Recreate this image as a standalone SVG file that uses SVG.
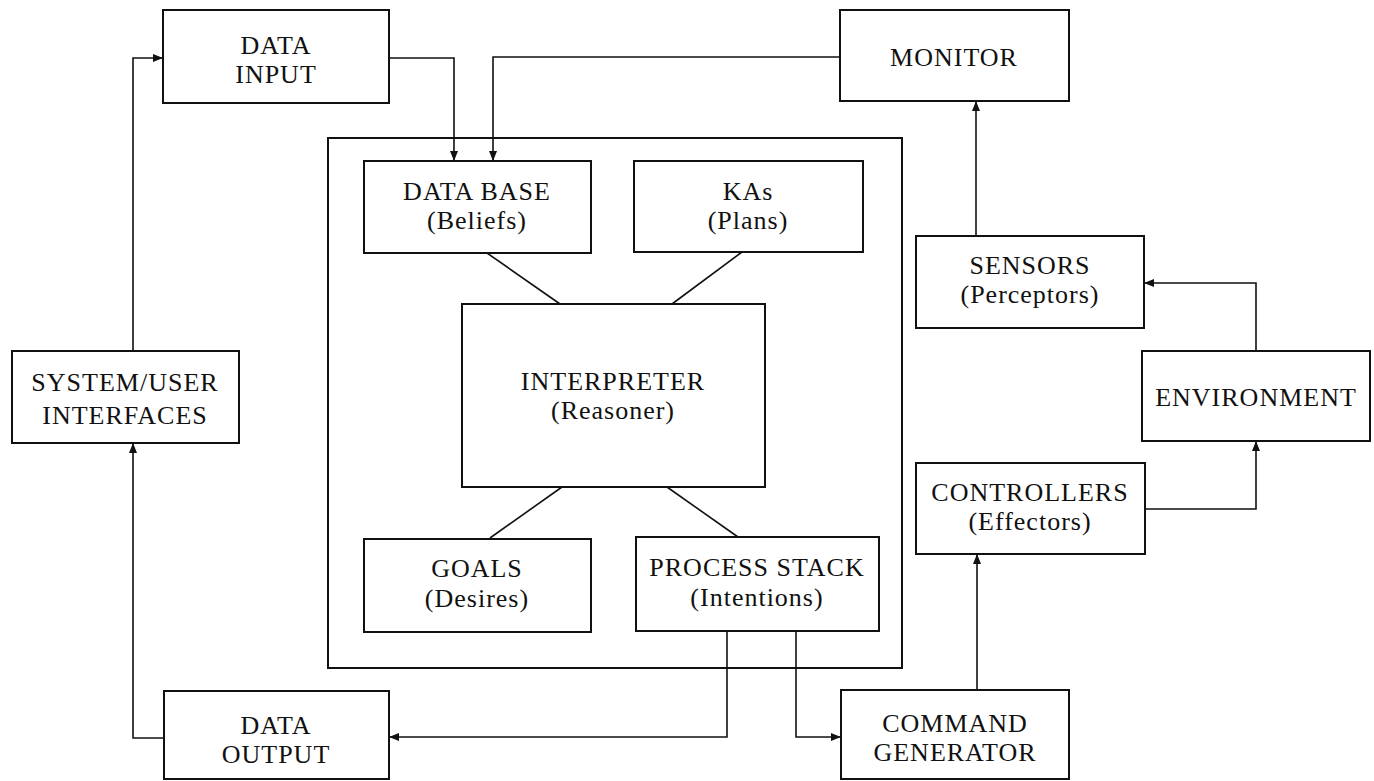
<svg xmlns="http://www.w3.org/2000/svg" width="1374" height="781" viewBox="0 0 1374 781">
<style>
.box{fill:#fff;stroke:#111;stroke-width:2}
.frame{fill:none;stroke:#111;stroke-width:2}
.t{font-family:"Liberation Serif","DejaVu Serif",serif;font-size:26px;letter-spacing:1px;fill:#111;text-anchor:middle}
.c{fill:none;stroke:#111;stroke-width:1.6}
</style>
<defs>
<marker id="ah" markerUnits="userSpaceOnUse" markerWidth="10" markerHeight="8" refX="10" refY="4" orient="auto">
<path d="M0,0 L10,4 L0,8 z" fill="#111"/>
</marker>
</defs>
<g id="agent-frame"><rect class="frame" x="328" y="138" width="574" height="530"/></g>
<g id="connectors">
<path class="c" d="M133,351 V58 H163" marker-end="url(#ah)"/>
<path class="c" d="M164,738 H133 V443" marker-end="url(#ah)"/>
<path class="c" d="M389,58 H454 V161" marker-end="url(#ah)"/>
<path class="c" d="M840,57 H493 V161" marker-end="url(#ah)"/>
<path class="c" d="M976,236 V101" marker-end="url(#ah)"/>
<path class="c" d="M1256,351 V283 H1144" marker-end="url(#ah)"/>
<path class="c" d="M1145,509 H1256 V441" marker-end="url(#ah)"/>
<path class="c" d="M977,690 V554" marker-end="url(#ah)"/>
<path class="c" d="M727,631 V737 H389" marker-end="url(#ah)"/>
<path class="c" d="M796,631 V737 H841" marker-end="url(#ah)"/>
<path class="c" d="M487,253 L560,304"/>
<path class="c" d="M742,252 L672,304"/>
<path class="c" d="M562,487 L490,538"/>
<path class="c" d="M667,487 L738,537"/>
</g>
<g id="data-input"><rect class="box" x="163" y="10" width="226" height="93"/><text class="t" x="276" y="54">DATA</text><text class="t" x="276" y="83">INPUT</text></g>
<g id="monitor"><rect class="box" x="840" y="10" width="229" height="91"/><text class="t" x="954" y="66">MONITOR</text></g>
<g id="data-base"><rect class="box" x="364" y="161" width="227" height="92"/><text class="t" x="477" y="200">DATA BASE</text><text class="t" x="477" y="229">(Beliefs)</text></g>
<g id="kas"><rect class="box" x="634" y="161" width="229" height="91"/><text class="t" x="748" y="200">KAs</text><text class="t" x="748" y="229">(Plans)</text></g>
<g id="interpreter"><rect class="box" x="462" y="304" width="303" height="183"/><text class="t" x="613" y="390">INTERPRETER</text><text class="t" x="613" y="419">(Reasoner)</text></g>
<g id="goals"><rect class="box" x="364" y="539" width="227" height="93"/><text class="t" x="477" y="577">GOALS</text><text class="t" x="477" y="607">(Desires)</text></g>
<g id="process-stack"><rect class="box" x="636" y="537" width="243" height="94"/><text class="t" x="757" y="576">PROCESS STACK</text><text class="t" x="757" y="606">(Intentions)</text></g>
<g id="sensors"><rect class="box" x="916" y="236" width="228" height="92"/><text class="t" x="1030" y="274">SENSORS</text><text class="t" x="1030" y="303">(Perceptors)</text></g>
<g id="environment"><rect class="box" x="1142" y="351" width="228" height="90"/><text class="t" x="1256" y="406">ENVIRONMENT</text></g>
<g id="controllers"><rect class="box" x="916" y="463" width="229" height="91"/><text class="t" x="1030" y="501">CONTROLLERS</text><text class="t" x="1030" y="530">(Effectors)</text></g>
<g id="system-user-interfaces"><rect class="box" x="12" y="351" width="227" height="92"/><text class="t" x="125" y="391">SYSTEM/USER</text><text class="t" x="125" y="424">INTERFACES</text></g>
<g id="data-output"><rect class="box" x="164" y="691" width="225" height="88"/><text class="t" x="276" y="734">DATA</text><text class="t" x="276" y="763">OUTPUT</text></g>
<g id="command-generator"><rect class="box" x="841" y="690" width="228" height="89"/><text class="t" x="955" y="732">COMMAND</text><text class="t" x="955" y="761">GENERATOR</text></g>
</svg>
